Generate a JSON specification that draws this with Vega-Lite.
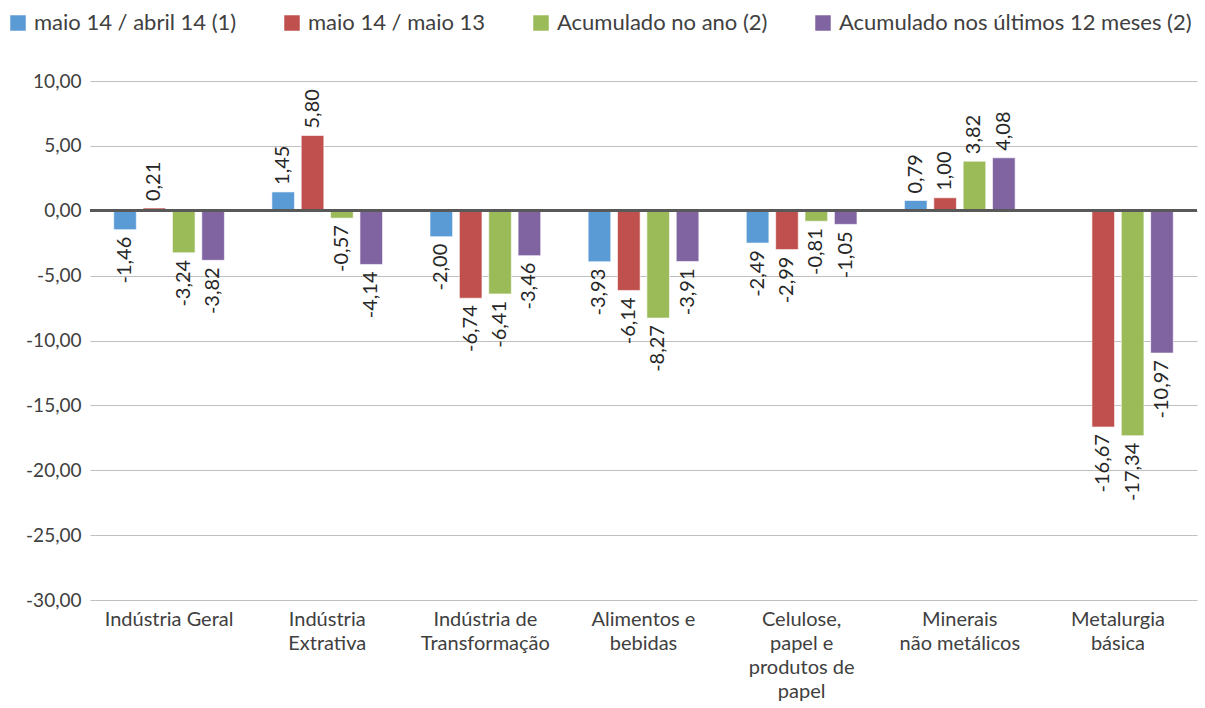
{
  "$schema": "https://vega.github.io/schema/vega-lite/v6.json",
  "width": 1107,
  "height": 519,
  "autosize": "none",
  "padding": {"left": 90, "top": 81, "right": 8, "bottom": 108},
  "background": "white",
  "config": {
    "locale": {"number": {"decimal": ",", "thousands": ".", "grouping": [3], "currency": ["", ""], "minus": "-"}},
    "font": "Lato",
    "view": {"stroke": null}
  },
  "data": {
    "values": [
      {"cat": "Indústria Geral", "serie": "maio 14 / abril 14 (1)", "v": -1.46},
      {"cat": "Indústria Geral", "serie": "maio 14 / maio 13", "v": 0.21},
      {"cat": "Indústria Geral", "serie": "Acumulado no ano (2)", "v": -3.24},
      {"cat": "Indústria Geral", "serie": "Acumulado nos últimos 12 meses (2)", "v": -3.82},
      {"cat": "Indústria|Extrativa", "serie": "maio 14 / abril 14 (1)", "v": 1.45},
      {"cat": "Indústria|Extrativa", "serie": "maio 14 / maio 13", "v": 5.80},
      {"cat": "Indústria|Extrativa", "serie": "Acumulado no ano (2)", "v": -0.57},
      {"cat": "Indústria|Extrativa", "serie": "Acumulado nos últimos 12 meses (2)", "v": -4.14},
      {"cat": "Indústria de|Transformação", "serie": "maio 14 / abril 14 (1)", "v": -2.00},
      {"cat": "Indústria de|Transformação", "serie": "maio 14 / maio 13", "v": -6.74},
      {"cat": "Indústria de|Transformação", "serie": "Acumulado no ano (2)", "v": -6.41},
      {"cat": "Indústria de|Transformação", "serie": "Acumulado nos últimos 12 meses (2)", "v": -3.46},
      {"cat": "Alimentos e|bebidas", "serie": "maio 14 / abril 14 (1)", "v": -3.93},
      {"cat": "Alimentos e|bebidas", "serie": "maio 14 / maio 13", "v": -6.14},
      {"cat": "Alimentos e|bebidas", "serie": "Acumulado no ano (2)", "v": -8.27},
      {"cat": "Alimentos e|bebidas", "serie": "Acumulado nos últimos 12 meses (2)", "v": -3.91},
      {"cat": "Celulose,|papel e|produtos de|papel", "serie": "maio 14 / abril 14 (1)", "v": -2.49},
      {"cat": "Celulose,|papel e|produtos de|papel", "serie": "maio 14 / maio 13", "v": -2.99},
      {"cat": "Celulose,|papel e|produtos de|papel", "serie": "Acumulado no ano (2)", "v": -0.81},
      {"cat": "Celulose,|papel e|produtos de|papel", "serie": "Acumulado nos últimos 12 meses (2)", "v": -1.05},
      {"cat": "Minerais|não metálicos", "serie": "maio 14 / abril 14 (1)", "v": 0.79},
      {"cat": "Minerais|não metálicos", "serie": "maio 14 / maio 13", "v": 1.00},
      {"cat": "Minerais|não metálicos", "serie": "Acumulado no ano (2)", "v": 3.82},
      {"cat": "Minerais|não metálicos", "serie": "Acumulado nos últimos 12 meses (2)", "v": 4.08},
      {"cat": "Metalurgia|básica", "serie": "maio 14 / maio 13", "v": -16.67},
      {"cat": "Metalurgia|básica", "serie": "Acumulado no ano (2)", "v": -17.34},
      {"cat": "Metalurgia|básica", "serie": "Acumulado nos últimos 12 meses (2)", "v": -10.97}
    ]
  },
  "encoding": {
    "x": {
      "field": "cat", "type": "nominal", "sort": null,
      "scale": {"paddingInner": 0.3, "paddingOuter": 0.15},
      "axis": {
        "title": null, "orient": "bottom", "domain": false, "ticks": false, "labelAngle": 0,
        "labelExpr": "split(datum.label, '|')",
        "labelFontSize": 20, "labelLineHeight": 24, "labelColor": "#404040", "labelPadding": 9,
        "labelBaseline": "top", "labelLimit": 250
      }
    },
    "xOffset": {
      "field": "serie", "type": "nominal",
      "sort": ["maio 14 / abril 14 (1)", "maio 14 / maio 13", "Acumulado no ano (2)", "Acumulado nos últimos 12 meses (2)"],
      "scale": {"paddingInner": 0.23, "paddingOuter": 0}
    },
    "y": {
      "field": "v", "type": "quantitative",
      "scale": {"domain": [-30, 10], "nice": false, "zero": false},
      "axis": {
        "title": null, "values": [-30, -25, -20, -15, -10, -5, 0, 5, 10], "format": ".2f",
        "domain": false, "ticks": false, "gridColor": "#BFBFBF", "gridWidth": 1,
        "labelFontSize": 19, "labelColor": "#404040", "labelPadding": 9
      }
    }
  },
  "layer": [
    {
      "mark": {"type": "bar", "stroke": "white", "strokeWidth": 0.6},
      "encoding": {
        "color": {
          "field": "serie", "type": "nominal",
          "scale": {
            "domain": ["maio 14 / abril 14 (1)", "maio 14 / maio 13", "Acumulado no ano (2)", "Acumulado nos últimos 12 meses (2)"],
            "range": ["#5B9BD5", "#C0504D", "#9BBB59", "#8064A2"]
          },
          "legend": {
            "title": null, "orient": "none", "legendX": -83, "legendY": -69,
            "direction": "horizontal", "columns": 4, "columnPadding": 44,
            "symbolType": "square", "symbolSize": 240, "symbolStrokeWidth": 0,
            "labelFontSize": 22, "labelColor": "#404040", "labelOffset": 5, "labelLimit": 500
          }
        }
      }
    },
    {
      "mark": {"type": "rule", "color": "#595959", "strokeWidth": 2.5},
      "encoding": {"y": {"datum": 0}, "x": {"value": 0}, "x2": {"value": 1107}, "xOffset": null}
    },
    {
      "transform": [{"filter": "datum.v >= 0"}],
      "mark": {"type": "text", "angle": 270, "align": "left", "baseline": "middle", "dx": 7, "fontSize": 20, "color": "#262626"},
      "encoding": {"text": {"field": "v", "type": "quantitative", "format": ".2f"}}
    },
    {
      "transform": [{"filter": "datum.v < 0"}],
      "mark": {"type": "text", "angle": 270, "align": "right", "baseline": "middle", "dx": -7, "fontSize": 20, "color": "#262626"},
      "encoding": {"text": {"field": "v", "type": "quantitative", "format": ".2f"}}
    }
  ]
}
